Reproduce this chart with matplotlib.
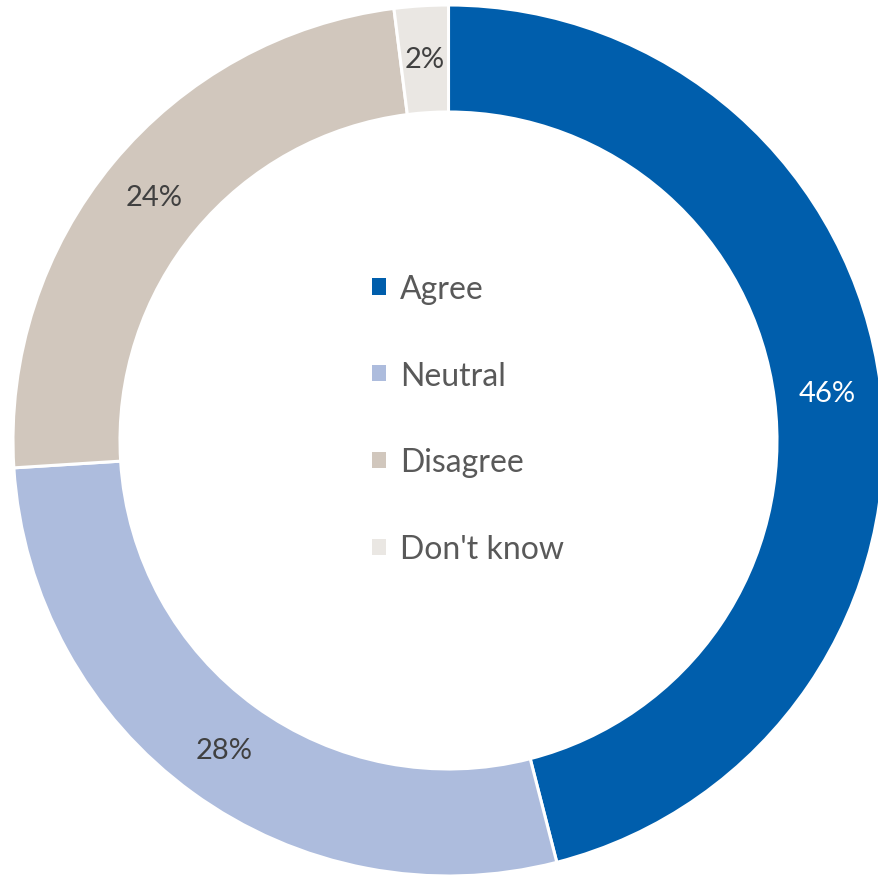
import matplotlib
matplotlib.use("Agg")
import matplotlib.pyplot as plt
from matplotlib.patches import Patch

categories = ["Agree", "Neutral", "Disagree", "Don't know"]
values = [46, 28, 24, 2]
colors = ["#005EAC", "#ADBCDD", "#D1C7BD", "#EAE7E3"]
label_colors = ["white", "#404040", "#404040", "#404040"]

plt.rcParams["font.family"] = ["Lato", "DejaVu Sans"]

fig = plt.figure(figsize=(8.79, 8.79), dpi=100)
ax = fig.add_axes([0, 0, 1, 1])

R = 435.5
width = 107.0 / R
cx, cy = 448.5, 441.5

wedges, texts, autotexts = ax.pie(
    values,
    colors=colors,
    startangle=90,
    counterclock=False,
    radius=1.0,
    wedgeprops=dict(width=width, edgecolor="white", linewidth=2.2),
    autopct=lambda p: f"{p:.0f}%",
    pctdistance=1.0 - width / 2,
    textprops=dict(fontsize=21),
)
for t, c in zip(autotexts, label_colors):
    t.set_color(c)

ax.set_xlim(-cx / R, (879 - cx) / R)
ax.set_ylim(-(879 - cy) / R, cy / R)
ax.set_aspect("equal")
ax.axis("off")

handles = [Patch(facecolor=c, edgecolor="none") for c in colors]
leg = ax.legend(
    handles, categories,
    loc="center", bbox_to_anchor=(468 / 879, 1 - 420 / 879),
    bbox_transform=fig.transFigure,
    frameon=False, fontsize=23, labelcolor="#595959",
    handlelength=0.42, handleheight=0.42, handletextpad=0.45,
    labelspacing=1.78,
)

fig.savefig("out.png", dpi=100)
